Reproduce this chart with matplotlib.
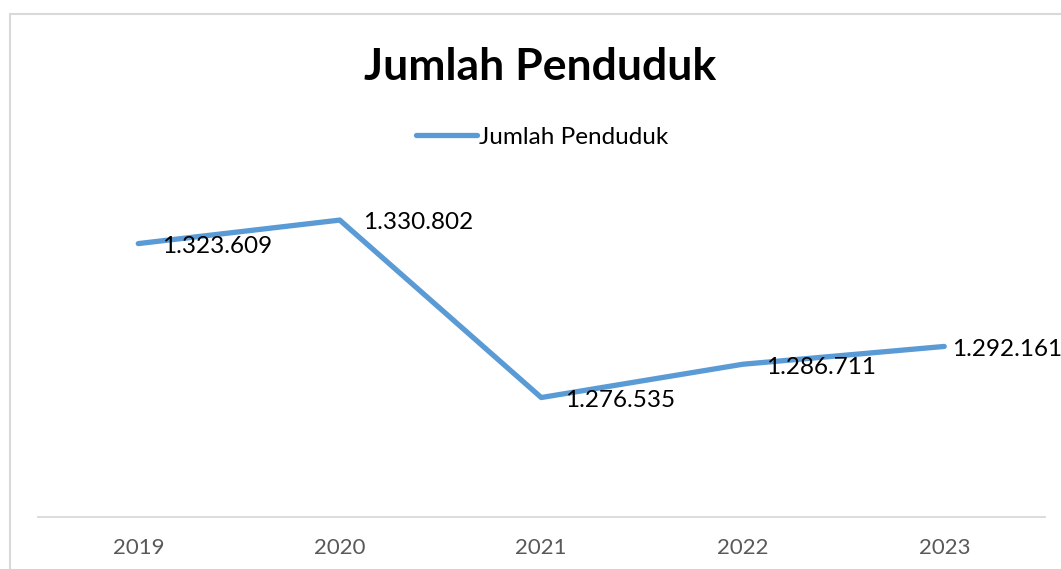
import matplotlib
matplotlib.use("Agg")
import matplotlib.pyplot as plt
from matplotlib.patches import Rectangle

years = ["2019", "2020", "2021", "2022", "2023"]
population = [1323609, 1330802, 1276535, 1286711, 1292161]
labels = ["1.323.609", "1.330.802", "1.276.535", "1.286.711", "1.292.161"]
title = "Jumlah Penduduk"

W, H = 1061, 569
fig = plt.figure(figsize=(W / 100, H / 100), dpi=100)
fig.patch.set_facecolor("white")
plt.rcParams['font.family'] = ['Lato', 'DejaVu Sans']

# chart border (cropped at right/bottom)
fig.patches.append(Rectangle((10 / W, -0.1), 1.2, 1 - 14 / H + 0.1, transform=fig.transFigure,
                             fill=False, edgecolor="#d9d9d9", linewidth=1.5))

ax = fig.add_axes([37.5 / W, 52 / H, (1045 - 37.5) / W, (517 - 190) / H])
x = list(range(len(years)))
ax.plot(x, population, color="#5B9BD5", linewidth=3.8, solid_capstyle="round",
        solid_joinstyle="round", label=title)
ax.set_xlim(-0.5, len(years) - 0.5)
ax.set_ylim(1240000, 1340000)
ax.set_xticks(x)
ax.set_xticklabels(years, color="#595959", fontsize=16)
ax.tick_params(axis="x", length=0, pad=15)
ax.set_yticks([])
for s in ["top", "right", "left"]:
    ax.spines[s].set_visible(False)
ax.spines["bottom"].set_color("#d9d9d9")
ax.spines["bottom"].set_linewidth(1.3)
ax.patch.set_alpha(0)

for i, (xi, yi, lab) in enumerate(zip(x, population, labels)):
    dx = 17 if i < len(x) - 1 else 5.5
    ax.annotate(lab, (xi, yi), xytext=(dx, -2), textcoords="offset points",
                ha="left", va="center", fontsize=17.5, color="black",
                annotation_clip=False)

fig.text(540 / W, 1 - 67 / H, title, ha="center", va="center", fontsize=32,
         fontweight="bold", color="black")
leg = fig.legend(loc="center", bbox_to_anchor=(542 / W, 1 - 137 / H), frameon=False,
                 fontsize=17.5, handlelength=2.5, handletextpad=0.1)

fig.savefig("out.png", dpi=100)
